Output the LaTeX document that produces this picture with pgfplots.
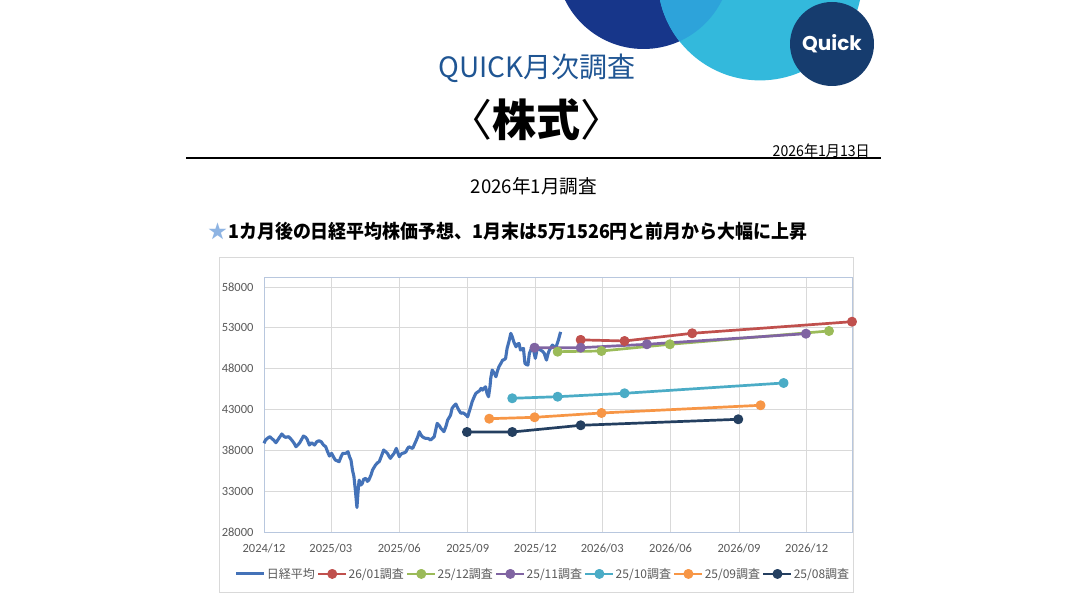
\documentclass[border=0pt]{standalone}
\usepackage{fontspec}
\usepackage{graphicx}
\usepackage{pgfplots}
\usepackage{pgfplotstable}
\pgfplotsset{compat=1.18}
\setmainfont{Carlito}
\newfontfamily\jp{Noto Sans CJK JP}
\newfontfamily\logofont{Poppins}
\definecolor{nk}{HTML}{4472B8}
\definecolor{cA}{HTML}{C0504D}
\definecolor{cB}{HTML}{9BBB59}
\definecolor{cC}{HTML}{8064A2}
\definecolor{cD}{HTML}{4BACC6}
\definecolor{cE}{HTML}{F79646}
\definecolor{cF}{HTML}{243F60}
\definecolor{gridgray}{HTML}{D9D9D9}
\definecolor{framecol}{HTML}{B8C7DE}
\definecolor{labgray}{HTML}{595959}
\definecolor{titleblue}{HTML}{1F5593}
\definecolor{starblue}{HTML}{8EB4E3}
\definecolor{logodark}{HTML}{17368A}
\definecolor{logocyan}{HTML}{33B9DC}
\definecolor{logomix}{HTML}{2DA3DA}
\definecolor{logonavy}{HTML}{163C6E}

\pgfplotstableread{
d v
0 38860
2 39260
5 39500
8 39670
11 39400
13 39260
16 38930
20 39470
24 40000
27 39700
29 39590
33 39670
36 39400
38 39180
41 38800
43 38440
46 38700
48 38930
51 39400
53 39750
56 39600
58 39350
61 38650
64 38930
68 38650
71 39050
74 39180
77 39050
80 38650
83 38440
85 37950
88 37300
91 37630
94 37100
96 36810
99 36700
101 36610
104 37300
106 37630
110 37630
113 37830
115 37220
117 36810
119 35590
121 34770
123 33000
125 31000
127 33500
128 34360
130 33750
132 33900
134 34450
137 34570
139 34200
141 34360
144 35000
146 35590
148 35900
150 36200
153 36500
155 36610
158 37300
161 38040
164 37800
166 37630
168 37300
170 37020
173 37400
175 37630
178 38240
180 37700
182 37220
184 37500
186 37630
189 37700
191 37830
193 38200
195 38440
198 38300
200 38240
202 38650
204 39050
207 39700
209 40280
211 39900
213 39670
216 39500
218 39470
220 39470
222 39400
224 39260
227 39500
229 39670
231 40500
233 41300
236 41000
238 40690
240 40500
242 40280
245 41000
247 41700
249 42000
251 42320
253 43140
256 43500
258 43670
260 43300
262 42930
265 42530
267 42600
269 42530
272 42300
274 42110
276 42720
278 43300
280 43950
283 44600
285 44980
288 45170
290 45300
292 45590
294 45380
296 45590
298 45780
300 44980
302 44560
304 45800
305 46810
307 47830
310 47400
312 47010
314 47700
316 48230
319 48700
321 49050
323 49100
325 49260
327 50480
330 51500
332 52320
334 51900
336 51290
339 50680
341 51000
343 51090
345 50280
347 50400
349 50480
351 48650
353 48500
355 48440
357 49870
359 50300
361 50890
363 50100
365 49260
368 50680
370 50400
372 50280
375 50100
377 49870
380 49050
382 49800
384 50280
386 50600
388 50890
390 50700
393 50680
396 51500
399 52500
}\nikkei

\begin{document}
\begin{tikzpicture}
\useasboundingbox (0pt,0pt) rectangle (1068pt,600pt);
\fill[white] (0pt,0pt) rectangle (1068pt,600pt);
\begin{scope}
\clip (0pt,0pt) rectangle (1068pt,600pt);
\fill[logodark] (643.5pt,638.4pt) circle[radius=87.4pt];
\fill[logocyan] (760pt,622pt) circle[radius=102.4pt];
\begin{scope}
\clip (643.5pt,638.4pt) circle[radius=87.4pt];
\fill[logomix] (760pt,622pt) circle[radius=102.4pt];
\end{scope}
\fill[logonavy] (832pt,556pt) circle[radius=42pt];
\end{scope}
\node[text=white, font=\logofont\bfseries\fontsize{20}{20}\selectfont] at (832pt,556pt) {Quick};

\node[text=titleblue, font=\jp\fontsize{28}{30}\selectfont] at (537pt,532pt) {QUICK月次調査};
\node[font=\jp\fontsize{44}{46}\selectfont, inner sep=0pt] at (536pt,480pt) {〈{\bfseries 株式}〉};
\node[anchor=east, font=\jp\fontsize{15}{16}\selectfont, inner sep=0pt] at (870pt,449pt) {\scalebox{0.94}[1]{2026年1月13日}};
\draw[line width=1.5pt] (186pt,442pt) -- (881pt,442pt);
\node[font=\jp\fontsize{19}{20}\selectfont] at (534pt,414pt) {\scalebox{0.98}[1]{2026年1月調査}};
\node[anchor=west, text=starblue, font=\jp\fontsize{19}{20}\selectfont, inner sep=0pt] at (208pt,369pt) {★};
\node[anchor=west, font=\jp\bfseries\fontsize{19}{20}\selectfont, inner sep=0pt] at (228pt,369pt) {\scalebox{0.945}[1]{1カ月後の日経平均株価予想、1月末は5万1526円と前月から大幅に上昇}};

\draw[gridgray, line width=0.8pt] (219pt,8pt) rectangle (853pt,343pt);

\begin{axis}[
  at={(264pt,68pt)}, anchor=south west,
  scale only axis, width=588pt, height=254pt,
  xmin=0, xmax=791, ymin=28000, ymax=59100,
  clip=false,
  scaled y ticks=false,
  xtick={0,90,182,274,365,455,547,639,730},
  xticklabels={2024/12,2025/03,2025/06,2025/09,2025/12,2026/03,2026/06,2026/09,2026/12},
  ytick={28000,33000,38000,43000,48000,53000,58000},
  yticklabels={28000,33000,38000,43000,48000,53000,58000},
  grid=major,
  major grid style={draw=gridgray, line width=0.8pt},
  axis line style={draw=framecol, line width=1pt},
  major tick length=0pt,
  /pgf/number format/assume math mode=true,
  tick label style={font=\fontsize{12.5}{14}\selectfont, text=labgray},
  xticklabel style={yshift=-8pt},
  yticklabel style={xshift=-7pt},
  legend columns=7,
  legend style={at={(0.4736,-0.165)}, anchor=center, draw=none, fill=none,
    font=\jp\fontsize{12}{14}\selectfont,
    nodes={inner xsep=1pt, text=labgray},
    /tikz/every even column/.append style={column sep=1pt}},
  legend image code/.code={\draw[mark repeat=2,mark phase=2] plot coordinates {(0pt,0pt) (14pt,0pt) (28pt,0pt)};},
  every axis plot/.append style={line join=round},
]
\addplot[nk, line width=3.1pt, no markers] table[x=d, y=v] {\nikkei};
\addlegendentry{日経平均}
\addplot[cA, line width=2.7pt, mark=*, mark size=3.6pt] coordinates {(426,51526) (485,51387) (576,52330) (791,53750)};
\addlegendentry{26/01調査}
\addplot[cB, line width=2.7pt, mark=*, mark size=3.6pt] coordinates {(395,50077) (454,50162) (546,50983) (760,52611)};
\addlegendentry{25/12調査}
\addplot[cC, line width=2.7pt, mark=*, mark size=3.6pt] coordinates {(364,50567) (426,50567) (515,50983) (729,52281)};
\addlegendentry{25/11調査}
\addplot[cD, line width=2.7pt, mark=*, mark size=3.6pt] coordinates {(334,44371) (395,44567) (485,44983) (699,46244)};
\addlegendentry{25/10調査}
\addplot[cE, line width=2.7pt, mark=*, mark size=3.6pt] coordinates {(303,41873) (364,42044) (454,42571) (668,43514)};
\addlegendentry{25/09調査}
\addplot[cF, line width=2.7pt, mark=*, mark size=3.6pt] coordinates {(273,40244) (334,40244) (426,41065) (638,41800)};
\addlegendentry{25/08調査}
\end{axis}
\end{tikzpicture}
\end{document}
